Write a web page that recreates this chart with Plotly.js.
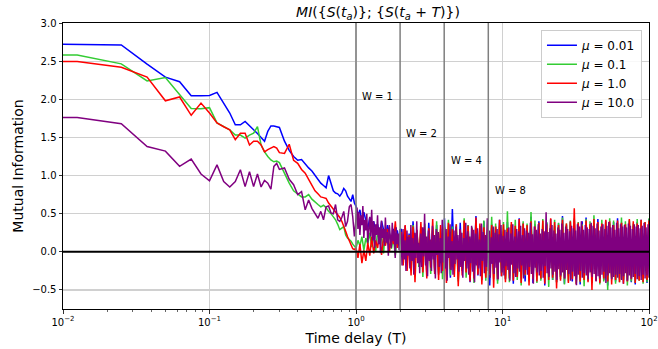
<!DOCTYPE html>
<html>
<head>
<meta charset="utf-8">
<script src="https://cdn.plot.ly/plotly-3.0.1.min.js"></script>
<style>html,body{margin:0;padding:0;background:#fff}#chart{width:658px;height:349px}</style>
</head>
<body>
<div id="chart"></div>
<script>
// ---- data ----
const seriesNames = ['<i>μ</i> = 0.01', '<i>μ</i> = 0.1', '<i>μ</i> = 1.0', '<i>μ</i> = 10.0'];
const seriesColors = ['#0000ff', '#33cc33', '#ff0000', '#800080'];
const windowSizes = [1, 2, 4, 8];
const windowLabelY = [2.03, 1.55, 1.2, 0.8];

// early time grid: T = 0 ... 0.3 every 0.0125, then 0.325 ... 0.975 every 0.025
const dtEarly = 0.0125;
const kEarly = [];
for (let k = 0; k <= 24; k++) kEarly.push(k);
for (let k = 26; k <= 78; k += 2) kEarly.push(k);

const blueEarly = [2.743,2.726,2.713,2.46,2.29,2.23,2.045,2.045,2.05,2.09,1.95,1.82,1.665,1.665,1.71,1.66,1.60,1.55,1.50,1.45,1.58,1.65,1.65,1.64,1.63,
  1.45,1.33,1.25,1.20,1.21,1.15,1.10,1.06,1.00,0.94,0.90,0.87,0.84,1.00,0.90,0.80,0.77,0.76,0.73,0.77,0.83,0.80,0.73,0.70,0.66,0.75,0.64];
const greenEarly = [2.595,2.58,2.464,2.24,2.285,2.07,1.88,1.875,1.89,1.69,1.64,1.60,1.53,1.53,1.49,1.53,1.555,1.64,1.40,1.31,1.25,1.205,1.18,1.19,1.17,
  1.02,0.90,0.80,0.76,0.72,0.72,0.75,0.69,0.66,0.62,0.59,0.61,0.58,0.53,0.50,0.46,0.42,0.36,0.29,0.31,0.33,0.22,0.18,0.16,0.14,0.10,0.07];
const redEarly = [2.507,2.494,2.42,2.29,1.98,2.03,1.79,1.95,1.82,1.69,1.64,1.60,1.47,1.555,1.555,1.40,1.45,1.45,1.40,1.31,1.34,1.36,1.38,1.36,1.30,
  1.29,1.41,1.20,1.16,1.08,1.03,0.95,0.88,0.80,0.76,0.72,0.71,0.70,0.64,0.60,0.56,0.52,0.49,0.45,0.40,0.34,0.27,0.20,0.15,0.10,0.04,0.03];
const purpleEarly = [1.773,1.76,1.68,1.38,1.32,1.12,1.215,1.02,0.93,1.14,0.92,0.85,0.92,1.075,0.855,1.05,0.855,1.02,0.85,0.935,0.90,0.82,1.12,1.16,1.08,
  1.10,0.95,0.88,0.75,0.79,0.55,0.68,0.57,0.50,0.44,0.53,0.42,0.59,0.60,0.51,0.50,0.62,0.42,0.40,0.45,0.53,0.33,0.40,0.59,0.62,0.46,0.20];

// late part: T from 1 to 100 (log-spaced samples of the noisy band)
const blueLate = [0.60,0.48,0.55,0.38,0.52,0.42,0.30,0.45,0.35,0.40,0.28,
  0.36,0.22,0.40,0.30,0.18,0.35,0.25,0.12,0.30,0.20,0.28,0.10,
  0.30,-0.08,0.34,-0.15,0.24,-0.22,0.40,0.00,0.26,-0.20,
  0.33,-0.14,0.22,-0.28,0.38,-0.10,0.28,-0.26,0.35,-0.30,
  0.24,-0.16,0.44,-0.22,0.30,-0.34,0.56,-0.18,0.26,-0.36,
  0.38,-0.25,0.32,-0.20,0.35,-0.40,0.28,-0.27,0.47,-0.31,
  0.34,-0.37,0.40,-0.22,0.30,-0.44,0.36,-0.29,0.33,-0.38,
  0.42,-0.32,0.27,-0.36,0.39,-0.25,0.35,-0.42,0.31,-0.30,
  0.44,-0.35,0.37,-0.39,0.33,-0.27,0.46,-0.41,0.36,-0.32,
  0.40,-0.36,0.31,-0.44,0.38,-0.29,0.43,-0.37,0.34,-0.40,
  0.37,-0.33,0.47,-0.42,0.35,-0.31,0.39,-0.39,0.42,-0.36,
  0.33,-0.43,0.40,-0.34,0.45,-0.38,0.36,-0.41,0.38,-0.32,
  0.43,-0.40,0.35,-0.37,0.41,-0.44,0.37,-0.34,0.39,-0.39,
  0.44,-0.36,0.38,-0.42,0.36,-0.38,0.40,-0.40,0.34,-0.43,
  0.39,-0.37,0.42,-0.39,0.37,-0.41,0.43];
const greenLate = [0.05,0.15,0.08,0.20,0.02,0.18,0.10,0.25,0.06,0.22,0.00,0.28,0.12,0.20,-0.02,0.30,0.10,0.24,0.04,0.18,-0.05,0.22,0.08,
  0.24,-0.12,0.30,-0.06,0.22,-0.24,0.35,-0.10,0.28,-0.20,
  0.26,-0.33,0.37,-0.15,0.23,-0.29,0.32,-0.22,0.40,-0.27,
  0.30,-0.36,0.24,-0.18,0.42,-0.31,0.33,-0.25,0.36,-0.39,
  0.28,-0.22,0.44,-0.34,0.35,-0.29,0.32,-0.41,0.38,-0.26,
  0.34,-0.33,0.41,-0.38,0.31,-0.30,0.46,-0.36,0.37,-0.42,
  0.33,-0.28,0.39,-0.35,0.53,-0.40,0.36,-0.33,0.42,-0.37,
  0.32,-0.44,0.40,-0.31,0.37,-0.39,0.52,-0.35,0.41,-0.41,
  0.36,-0.38,0.43,-0.34,0.39,-0.46,0.35,-0.37,0.42,-0.40,
  0.38,-0.36,0.45,-0.43,0.37,-0.39,0.41,-0.35,0.44,-0.42,
  0.39,-0.40,0.36,-0.45,0.43,-0.37,0.40,-0.41,0.48,-0.38,
  0.37,-0.43,0.42,-0.39,0.39,-0.50,0.44,-0.36,0.41,-0.42,
  0.38,-0.40,0.45,-0.37,0.40,-0.44,0.42,-0.39,0.37,-0.41,
  0.43,-0.38,0.41,-0.42,0.39,-0.40,0.44];
const redLate = [0.05,-0.08,0.10,-0.15,0.02,-0.12,0.12,-0.05,0.20,-0.02,0.15,0.05,0.25,-0.04,0.18,0.08,0.30,0.00,0.22,0.10,0.40,0.05,0.20,
  0.26,-0.18,0.35,-0.25,0.22,-0.31,0.33,-0.40,0.29,-0.14,
  0.39,-0.27,0.25,-0.35,0.31,-0.21,0.43,-0.29,0.27,-0.37,
  0.35,-0.25,0.32,-0.41,0.38,-0.23,0.30,-0.33,0.36,-0.45,
  0.29,-0.31,0.41,-0.27,0.34,-0.39,0.31,-0.35,0.45,-0.30,
  0.37,-0.43,0.32,-0.34,0.40,-0.29,0.35,-0.47,0.33,-0.36,
  0.42,-0.32,0.36,-0.40,0.31,-0.35,0.39,-0.38,0.34,-0.33,
  0.43,-0.41,0.37,-0.30,0.35,-0.44,0.40,-0.36,0.33,-0.39,
  0.38,-0.35,0.41,-0.42,0.36,-0.37,0.44,-0.34,0.39,-0.48,
  0.35,-0.38,0.42,-0.35,0.37,-0.41,0.40,-0.36,0.57,-0.43,
  0.38,-0.39,0.34,-0.37,0.41,-0.40,0.36,-0.50,0.43,-0.38,
  0.39,-0.41,0.37,-0.35,0.42,-0.39,0.40,-0.43,0.35,-0.37,
  0.41,-0.40,0.38,-0.42,0.36,-0.39,0.43,-0.36,0.40,-0.41,
  0.37,-0.38,0.42,-0.40,0.39,-0.37,0.41];
const purpleLate = [0.45,0.58,0.30,0.52,0.22,0.48,0.35,0.60,0.18,0.42,
  0.28,0.50,0.12,0.38,0.46,0.20,0.55,0.15,0.40,0.05,
  0.36,0.22,0.48,0.10,0.32,-0.02,0.41,0.18,0.30,0.08,
  0.45,0.12,0.26,-0.05,0.35,0.20,0.05,0.38,0.14,0.28,
  -0.08,0.32,0.10,0.24,0.02,0.30,
  0.22,-0.18,0.30,-0.10,0.15,-0.25,0.28,-0.05,0.20,-0.22,
  0.35,-0.12,0.18,-0.30,0.25,-0.08,0.40,-0.15,0.12,-0.28,
  0.24,-0.20,0.32,-0.06,0.50,-0.18,0.20,-0.32,0.28,-0.12,
  0.16,-0.25,0.34,-0.10,0.22,-0.35,0.30,-0.04,0.26,-0.20,
  0.18,-0.28,0.42,-0.14,0.24,-0.22,0.30,-0.38,0.20,-0.08,
  0.36,-0.24,0.14,-0.30,0.28,-0.16,0.33,-0.10,0.22,-0.26,
  0.30,-0.20,0.25,-0.34,0.18,-0.12,0.38,-0.22,0.27,-0.30,
  0.20,-0.15,0.34,-0.26,0.29,-0.40,0.24,-0.18,0.31,-0.22,
  0.16,-0.32,0.37,-0.12,0.26,-0.28,0.22,-0.20,0.44,-0.25,
  0.28,-0.34,0.19,-0.16,0.33,-0.29,0.25,-0.21,0.30,-0.36,
  0.23,-0.14,0.35,-0.27,0.21,-0.31,0.29,-0.19,0.26,-0.24,
  0.32,-0.38,0.24,-0.17,0.36,-0.28,0.20,-0.33,0.30,-0.22,
  0.27,-0.26,0.34,-0.18,0.22,-0.35,0.31,-0.24,0.28,-0.30,
  0.25,-0.20,0.38,-0.29,0.23,-0.42,0.33,-0.21,0.29,-0.27,
  0.36,-0.31,0.24,-0.25,0.30,-0.34,0.27,-0.19,0.52,-0.28,
  0.26,-0.33,0.31,-0.22,0.35,-0.30,0.28,-0.26,0.24,-0.37,
  0.32,-0.23,0.29,-0.31,0.37,-0.27,0.25,-0.35,0.33,-0.24,
  0.30,-0.29,0.27,-0.38,0.34,-0.26,0.31,-0.32,0.28,-0.44,
  0.36,-0.30,0.33,-0.25,0.40,-0.34,0.29,-0.28,0.35,-0.31,
  0.32,-0.36,0.30,-0.27,0.38,-0.33,0.34,-0.29,0.31,-0.39,
  0.37,-0.32,0.28,-0.35,0.33,-0.30,0.36,-0.26,0.30,-0.41,
  0.34,-0.31,0.39,-0.28,0.32,-0.36,0.35,-0.33,0.29,-0.30,
  0.38,-0.34,0.31,-0.29,0.36,-0.37,0.33,-0.32,0.35,-0.28,
  0.32,-0.38,0.37,-0.31,0.34,-0.35,0.30,-0.33,0.36,-0.29,
  0.33,-0.36,0.35,-0.32,0.31,-0.37,0.34,-0.30,0.38,-0.35,
  0.32,-0.31,0.36,-0.34];

const xTickVals = [0.01, 0.1, 1, 10, 100];
const xTickText = ['10<sup>−2</sup>', '10<sup>−1</sup>', '10<sup>0</sup>', '10<sup>1</sup>', '10<sup>2</sup>'];
const yTickVals = [-0.5, 0, 0.5, 1, 1.5, 2, 2.5, 3];
const yTickText = ['−0.5', '0.0', '0.5', '1.0', '1.5', '2.0', '2.5', '3.0'];

// ---- build ----
const tEarly = kEarly.map(k => k * dtEarly).map(t => t > 0 ? t : 1e-3); // T=0 clipped like a log axis
function lateGrid(n) { return Array.from({length: n}, (_, i) => Math.pow(10, 2 * i / (n - 1))); }

const early = [blueEarly, greenEarly, redEarly, purpleEarly];
const late = [blueLate, greenLate, redLate, purpleLate];
const traces = early.map((e, i) => ({
  type: 'scatter', mode: 'lines',
  x: tEarly.concat(lateGrid(late[i].length)),
  y: e.concat(late[i]),
  name: seriesNames[i],
  line: {color: seriesColors[i], width: 1.5},
  hoverinfo: 'skip'
}));

const minorVals = [];
[0.01, 0.1, 1, 10].forEach(d => { for (let m = 2; m <= 9; m++) minorVals.push(d * m); });

const shapes = windowSizes.map(w => ({
  type: 'line', xref: 'x', yref: 'paper', x0: w, x1: w, y0: 0, y1: 1,
  line: {color: '#7f7f7f', width: 1.5}, layer: 'above'
}));
shapes.push({type: 'line', xref: 'paper', yref: 'y', x0: 0, x1: 1, y0: 0, y1: 0,
  line: {color: '#000000', width: 2}, layer: 'above'});

const annotations = windowSizes.map((w, i) => ({
  x: Math.log10(1.07 * w), y: windowLabelY[i], xref: 'x', yref: 'y',
  text: 'W = ' + w, showarrow: false, xanchor: 'left', yanchor: 'middle',
  font: {family: 'DejaVu Sans', size: 10, color: '#000'}
}));

const font = {family: 'DejaVu Sans', size: 10, color: '#000'};
const layout = {
  width: 658, height: 349,
  margin: {l: 63, r: 9, t: 23, b: 40},
  paper_bgcolor: '#fff', plot_bgcolor: '#fff',
  font: font,
  showlegend: true,
  title: {
    text: '<i>MI</i>({<i>S</i>(<i>t</i><sub><i>a</i></sub>)}; {<i>S</i>(<i>t</i><sub><i>a</i></sub> + <i>T</i>)})',
    font: {family: 'DejaVu Sans', size: 14, color: '#000'},
    x: 0.5375, xanchor: 'center', xref: 'paper', y: 0.965, yanchor: 'middle', yref: 'container'
  },
  xaxis: {
    type: 'log', range: [-2, 2],
    tickvals: xTickVals, ticktext: xTickText,
    ticks: 'outside', ticklen: 3.5, tickwidth: 0.8, tickcolor: '#000',
    showgrid: true, gridcolor: '#d0d0d0', gridwidth: 1.2,
    showline: true, linecolor: '#000', linewidth: 1, mirror: true,
    zeroline: false,
    tickfont: font,
    minor: {tickmode: 'array', tickvals: minorVals, ticks: 'outside', ticklen: 2, tickwidth: 0.6, tickcolor: '#000', showgrid: false},
    title: {text: 'Time delay (T)', font: {family: 'DejaVu Sans', size: 14, color: '#000'}, standoff: 6}
  },
  yaxis: {
    range: [-0.75, 3.0],
    tickvals: yTickVals, ticktext: yTickText,
    ticks: 'outside', ticklen: 3.5, tickwidth: 0.8, tickcolor: '#000',
    showgrid: true, gridcolor: '#d0d0d0', gridwidth: 1.2,
    showline: true, linecolor: '#000', linewidth: 1, mirror: true,
    zeroline: false,
    tickfont: font,
    title: {text: 'Mutual Information', font: {family: 'DejaVu Sans', size: 14, color: '#000'}, standoff: 5}
  },
  legend: {
    x: 0.988, y: 0.976, xanchor: 'right', yanchor: 'top',
    bgcolor: 'rgba(255,255,255,0.85)', bordercolor: '#cccccc', borderwidth: 1,
    font: {family: 'DejaVu Sans', size: 12, color: '#000'},
    tracegroupgap: 0
  },
  shapes: shapes,
  annotations: annotations
};

Plotly.newPlot('chart', traces, layout, {displayModeBar: false, staticPlot: true});
</script>
</body>
</html>
